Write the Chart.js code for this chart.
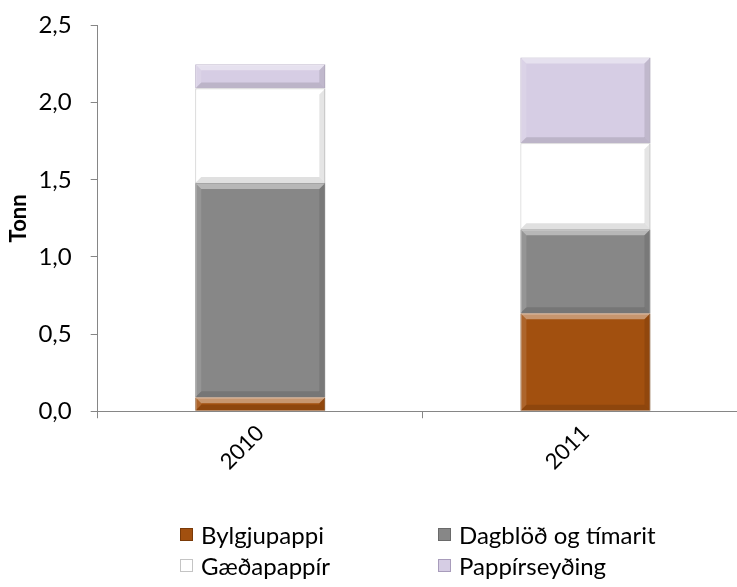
<!DOCTYPE html>
<html>
<head>
<meta charset="utf-8">
<script src="https://cdn.jsdelivr.net/npm/chart.js@4.4.0/dist/chart.umd.min.js"></script>
<style>
  html, body { margin: 0; padding: 0; background: #fff; }
  #wrap { position: relative; width: 737px; height: 587px; overflow: hidden; }
  #chart { position: absolute; left: 0; top: -3px; }
  #legend {
    position: absolute; left: 180px; top: 521px;
    display: grid; grid-template-columns: 258px 258px; row-gap: 5px;
    font-family: Lato, sans-serif; font-size: 24px; color: #000;
  }
  #legend .item { display: flex; align-items: center; height: 26px; }
  #legend .box { width: 13px; height: 13px; margin-right: 8px; box-sizing: border-box; }
</style>
</head>
<body>
<div id="wrap">
  <!-- a bit wider than the window: the plot area runs past the right edge, as in the original -->
  <canvas id="chart" width="748" height="590"></canvas>
  <div id="legend"></div>
</div>
<script>
/* ---------- data ---------- */
const years = ['2010', '2011'];
const seriesNames = ['Bylgjupappi', 'Dagblöð og tímarit', 'Gæðapappír', 'Pappírseyðing'];
const bylgjupappi = [0.09, 0.636];
const dagblod     = [1.39, 0.544];
const gaedapappir = [0.613, 0.557];
const pappirseyd  = [0.157, 0.557];
const yTicks = [0, 0.5, 1.0, 1.5, 2.0, 2.5];

const fills   = ['#A2500F', '#878787', '#FFFFFF', '#D6CDE4'];
const borders = ['#7A3A08', '#6A6A6A', '#C4C4C4', '#A89CBB'];
const values  = [bylgjupappi, dagblod, gaedapappir, pappirseyd];

const datasets = seriesNames.map((name, i) => ({
  label: name,
  data: values[i],
  backgroundColor: fills[i],
  borderColor: borders[i],
  borderWidth: 1,
  barPercentage: 0.4,
  categoryPercentage: 1
}));

// bevel-ish shading on each bar, positioned from the bar elements
const bevel = {
  id: 'bevel',
  afterDatasetsDraw(chart) {
    const ctx = chart.ctx;
    chart.data.datasets.forEach((ds, di) => {
      chart.getDatasetMeta(di).data.forEach(bar => {
        const l = bar.x - bar.width / 2, r = bar.x + bar.width / 2;
        const t = Math.min(bar.y, bar.base), b = Math.max(bar.y, bar.base);
        const d = Math.min(6, (b - t) / 2);
        const poly = (pts, col) => {
          ctx.beginPath();
          ctx.moveTo(pts[0][0], pts[0][1]);
          pts.slice(1).forEach(p => ctx.lineTo(p[0], p[1]));
          ctx.closePath();
          ctx.fillStyle = col;
          ctx.fill();
        };
        ctx.save();
        poly([[l, t], [r, t], [r - d, t + d], [l + d, t + d]], 'rgba(255,255,255,0.4)');
        poly([[l, b], [r, b], [r - d, b - d], [l + d, b - d]], 'rgba(0,0,0,0.12)');
        poly([[l, t], [l + d, t + d], [l + d, b - d], [l, b]], 'rgba(255,255,255,0.12)');
        poly([[r, t], [r - d, t + d], [r - d, b - d], [r, b]], 'rgba(0,0,0,0.1)');
        ctx.restore();
      });
    });
  }
};

const axisColor = '#868686';
const font = { family: 'Lato, sans-serif', size: 22 };

new Chart(document.getElementById('chart'), {
  type: 'bar',
  data: { labels: years, datasets },
  options: {
    responsive: false,
    animation: false,
    layout: { padding: { top: 22, left: -7, right: 0, bottom: 110 } },
    plugins: { legend: { display: false }, tooltip: { enabled: false } },
    scales: {
      x: {
        stacked: true,
        grid: { drawOnChartArea: false, drawTicks: true, tickLength: 7, color: axisColor },
        border: { color: axisColor },
        ticks: { color: '#000', font, maxRotation: 45, minRotation: 45, padding: 2 }
      },
      y: {
        stacked: true,
        min: 0, max: 2.5,
        afterBuildTicks: s => { s.ticks = yTicks.map(v => ({ value: v })); },
        grid: { drawOnChartArea: false, drawTicks: true, tickLength: 7, color: axisColor },
        border: { color: axisColor },
        ticks: {
          color: '#000', font: { family: 'Lato, sans-serif', size: 24, lineHeight: 0.8 }, padding: 19,
          callback: v => v.toFixed(1).replace('.', ',')
        },
        title: {
          display: true, text: 'Tonn', color: '#000',
          font: { family: 'Lato, sans-serif', size: 22, weight: 'bold' },
          padding: { top: 13, bottom: -13 }
        }
      }
    }
  },
  plugins: [bevel]
});

// two-column legend
document.getElementById('legend').innerHTML = seriesNames.map((n, i) =>
  `<div class="item"><span class="box" style="background:${fills[i]};border:1px solid ${borders[i]}"></span>${n}</div>`
).join('');
</script>
</body>
</html>
